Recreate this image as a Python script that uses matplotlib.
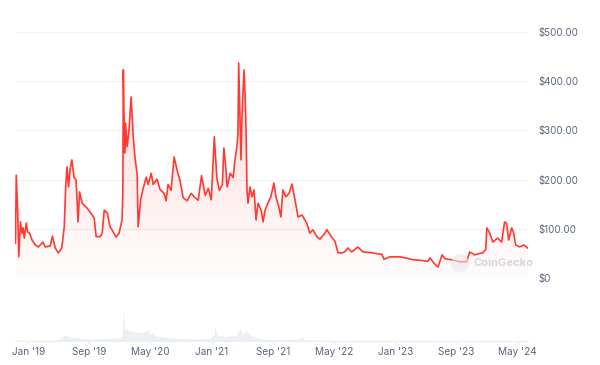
import numpy as np
import pandas as pd
import matplotlib
matplotlib.use("Agg")
import matplotlib.pyplot as plt
import matplotlib.dates as mdates
from matplotlib.colors import to_rgb
from matplotlib.patches import Ellipse

plt.rcParams['font.family'] = ['Inter', 'DejaVu Sans']

# price line (USD)
price_dates = [
    "2018-11-11", "2018-11-14", "2018-11-20", "2018-11-24", "2018-12-01", "2018-12-07",
    "2018-12-11", "2018-12-16", "2018-12-24", "2018-12-29", "2019-01-06", "2019-01-16",
    "2019-01-29", "2019-02-10", "2019-02-28", "2019-03-09", "2019-03-29", "2019-04-07",
    "2019-04-18", "2019-05-01", "2019-05-14", "2019-05-24", "2019-05-30", "2019-06-04",
    "2019-06-10", "2019-06-16", "2019-06-23", "2019-07-02", "2019-07-10", "2019-07-18",
    "2019-07-24", "2019-08-03", "2019-08-23", "2019-09-12", "2019-09-20", "2019-09-28",
    "2019-10-14", "2019-10-22", "2019-10-30", "2019-11-11", "2019-11-22", "2019-11-30",
    "2019-12-16", "2019-12-28", "2020-01-09", "2020-01-12", "2020-01-14", "2020-01-19",
    "2020-01-23", "2020-01-29", "2020-02-05", "2020-02-14", "2020-02-22", "2020-02-28",
    "2020-03-09", "2020-03-13", "2020-03-23", "2020-04-02", "2020-04-14", "2020-04-22",
    "2020-05-04", "2020-05-12", "2020-05-27", "2020-06-08", "2020-06-24", "2020-07-02",
    "2020-07-10", "2020-07-22", "2020-08-03", "2020-08-15", "2020-08-27", "2020-09-08",
    "2020-09-24", "2020-10-10", "2020-10-26", "2020-11-07", "2020-11-20", "2020-12-05",
    "2020-12-17", "2020-12-29", "2021-01-10", "2021-01-20", "2021-01-30", "2021-02-11",
    "2021-02-17", "2021-02-23", "2021-03-02", "2021-03-14", "2021-03-26", "2021-04-02",
    "2021-04-10", "2021-04-14", "2021-04-17", "2021-04-26", "2021-04-30", "2021-05-08",
    "2021-05-12", "2021-05-16", "2021-05-20", "2021-05-24", "2021-06-01", "2021-06-09",
    "2021-06-17", "2021-06-25", "2021-07-03", "2021-07-15", "2021-07-23", "2021-07-31",
    "2021-08-11", "2021-08-23", "2021-09-04", "2021-09-12", "2021-09-24", "2021-10-02",
    "2021-10-10", "2021-10-22", "2021-11-03", "2021-11-15", "2021-11-27", "2021-12-09",
    "2021-12-25", "2022-01-13", "2022-01-25", "2022-02-06", "2022-02-22", "2022-03-06",
    "2022-03-26", "2022-04-03", "2022-04-23", "2022-05-05", "2022-05-17", "2022-06-01",
    "2022-06-13", "2022-06-25", "2022-07-11", "2022-08-04", "2022-08-24", "2022-09-13",
    "2022-10-03", "2022-10-23", "2022-11-08", "2022-11-16", "2022-12-10", "2022-12-30",
    "2023-01-19", "2023-02-16", "2023-03-12", "2023-04-08", "2023-05-10", "2023-05-18",
    "2023-06-03", "2023-06-19", "2023-07-05", "2023-07-17", "2023-08-13", "2023-09-13",
    "2023-10-11", "2023-10-23", "2023-11-12", "2023-12-02", "2023-12-14", "2023-12-26",
    "2023-12-30", "2024-01-11", "2024-01-23", "2024-02-11", "2024-02-27", "2024-03-10",
    "2024-03-18", "2024-03-26", "2024-04-07", "2024-04-15", "2024-04-23", "2024-05-09",
    "2024-05-25", "2024-06-10",
]
prices = [
    71, 209, 132, 43, 114, 91,
    102, 81, 112, 94, 91, 77,
    67, 63, 73, 63, 65, 85,
    61, 51, 61, 104, 190, 226,
    185, 220, 240, 205, 199, 114,
    175, 152, 142, 128, 122, 84,
    84, 91, 138, 132, 104, 98,
    83, 91, 118, 172, 423, 254,
    315, 267, 298, 368, 290, 252,
    210, 104, 160, 182, 205, 190,
    213, 190, 201, 180, 172, 157,
    190, 178, 246, 219, 197, 163,
    157, 172, 163, 158, 208, 168,
    182, 159, 287, 204, 178, 190,
    264, 234, 185, 213, 204, 240,
    267, 294, 437, 240, 327, 423,
    376, 307, 179, 152, 185, 165,
    179, 118, 152, 138, 114, 138,
    152, 165, 193, 165, 144, 124,
    179, 165, 172, 191, 159, 124,
    128, 111, 91, 98, 84, 79,
    91, 98, 82, 75, 51, 51,
    53, 61, 53, 63, 53, 52,
    51, 49, 48, 38, 43, 43,
    43, 40, 37, 36, 34, 41,
    30, 22, 47, 39, 37, 33,
    33, 53, 47, 50, 51, 58,
    102, 91, 73, 81, 73, 114,
    111, 77, 102, 91, 67, 63,
    67, 61,
]

# volume strip (relative heights)
volume_dates = [
    "2018-11-11", "2019-01-09", "2019-03-09", "2019-04-30", "2019-05-28", "2019-06-17",
    "2019-07-27", "2019-09-04", "2019-10-14", "2019-11-23", "2019-12-24", "2020-01-09",
    "2020-01-14", "2020-01-21", "2020-01-29", "2020-02-06", "2020-02-14", "2020-02-26",
    "2020-03-13", "2020-03-29", "2020-04-14", "2020-04-30", "2020-05-08", "2020-05-24",
    "2020-06-17", "2020-07-19", "2020-08-27", "2020-10-06", "2020-11-14", "2020-12-24",
    "2021-01-09", "2021-01-13", "2021-01-21", "2021-02-10", "2021-02-26", "2021-03-17",
    "2021-04-06", "2021-04-22", "2021-05-04", "2021-05-16", "2021-06-01", "2021-06-17",
    "2021-07-11", "2021-08-20", "2021-10-19", "2021-12-18", "2021-12-26", "2022-01-03",
    "2022-03-07", "2023-01-19", "2024-06-10",
]
volumes = [
    1, 0.5, 0.5, 1, 6, 4,
    3, 2, 2, 3, 3, 5,
    33, 10, 13, 9, 11, 9,
    9, 8, 11, 7, 8, 5,
    4, 3, 2.5, 2, 2, 3,
    6, 16, 6, 5, 4, 6,
    5, 13, 7, 11, 6, 4,
    2, 1.5, 1.5, 2, 4, 1,
    0.8, 0.6, 0.5,
]

x_tick_dates = ["2019-01-01", "2019-09-01", "2020-05-01", "2021-01-01", "2021-09-01",
                "2022-05-01", "2023-01-01", "2023-09-01", "2024-05-01"]
x_tick_labels = ["Jan '19", "Sep '19", "May '20", "Jan '21", "Sep '21",
                 "May '22", "Jan '23", "Sep '23", "May '24"]
y_ticks = [0, 100, 200, 300, 400, 500]
y_labels = ["$0", "$100.00", "$200.00", "$300.00", "$400.00", "$500.00"]

line_color = "#ff3a33"
text_color = "#58667e"

pd_dates = pd.to_datetime(price_dates)
vd_dates = pd.to_datetime(volume_dates)
x_min = pd.Timestamp("2018-11-09")
x_max = pd.Timestamp("2024-06-11")

fig = plt.figure(figsize=(6, 3.65), dpi=100)

# volume area at the bottom
ax_v = fig.add_axes([0.025, 0.0658, 0.855, 0.137])
ax_v.fill_between(vd_dates, volumes, 0, color="#eceff4", linewidth=0)
ax_v.set_ylim(0, 50)
ax_v.set_xlim(x_min, x_max)
ax_v.set_yticks([])
for side in ["top", "left", "right"]:
    ax_v.spines[side].set_visible(False)
ax_v.spines["bottom"].set_color("#eceef2")
ax_v.spines["bottom"].set_linewidth(0.8)
ax_v.set_xticks(pd.to_datetime(x_tick_dates))
ax_v.set_xticklabels(x_tick_labels)
ax_v.tick_params(axis="x", colors="#e3e6ea", length=2.5, pad=2, labelsize=7.2,
                 labelcolor=text_color)
ax_v.set_facecolor("none")

# price chart
ax = fig.add_axes([0.025, 0.2384, 0.855, 0.674])
ax.set_facecolor("none")
ax.plot(pd_dates, prices, color=line_color, linewidth=1.2, zorder=3)

poly = ax.fill_between(pd_dates, prices, 0, color="none", linewidth=0)
x0n, x1n = mdates.date2num(x_min), mdates.date2num(x_max)
grad = np.linspace(0, 1, 256).reshape(-1, 1)
rgba = np.zeros((256, 1, 4))
rgba[..., :3] = to_rgb(line_color)
rgba[..., 3] = 0.015 + 0.2 * grad
im = ax.imshow(rgba, extent=[x0n, x1n, 0, 500], origin="lower", aspect="auto",
               zorder=2, interpolation="bilinear")
im.set_clip_path(poly.get_paths()[0], transform=ax.transData)

ax.set_xlim(x_min, x_max)
ax.set_ylim(0, 500)
ax.set_yticks(y_ticks)
ax.set_yticklabels(y_labels)
ax.yaxis.tick_right()
ax.tick_params(axis="y", length=0, pad=7.5, labelsize=7, labelcolor=text_color)
ax.set_xticks([])
ax.grid(axis="y", color="#f1f1f1", linewidth=0.8, zorder=0)
ax.set_axisbelow(True)
for side in ax.spines:
    ax.spines[side].set_visible(False)

# CoinGecko watermark
fig.patches.append(Ellipse((460 / 600, 1 - 263 / 365), 18 / 600, 18 / 365,
                           transform=fig.transFigure, facecolor="#e6e6e6",
                           edgecolor="none", alpha=0.6, zorder=5))
fig.text(473 / 600, 1 - 263 / 365, "CoinGecko", color="#d6d6d6", fontsize=8,
         fontweight="bold", va="center", ha="left", zorder=5)

fig.savefig("out.png", dpi=100)
